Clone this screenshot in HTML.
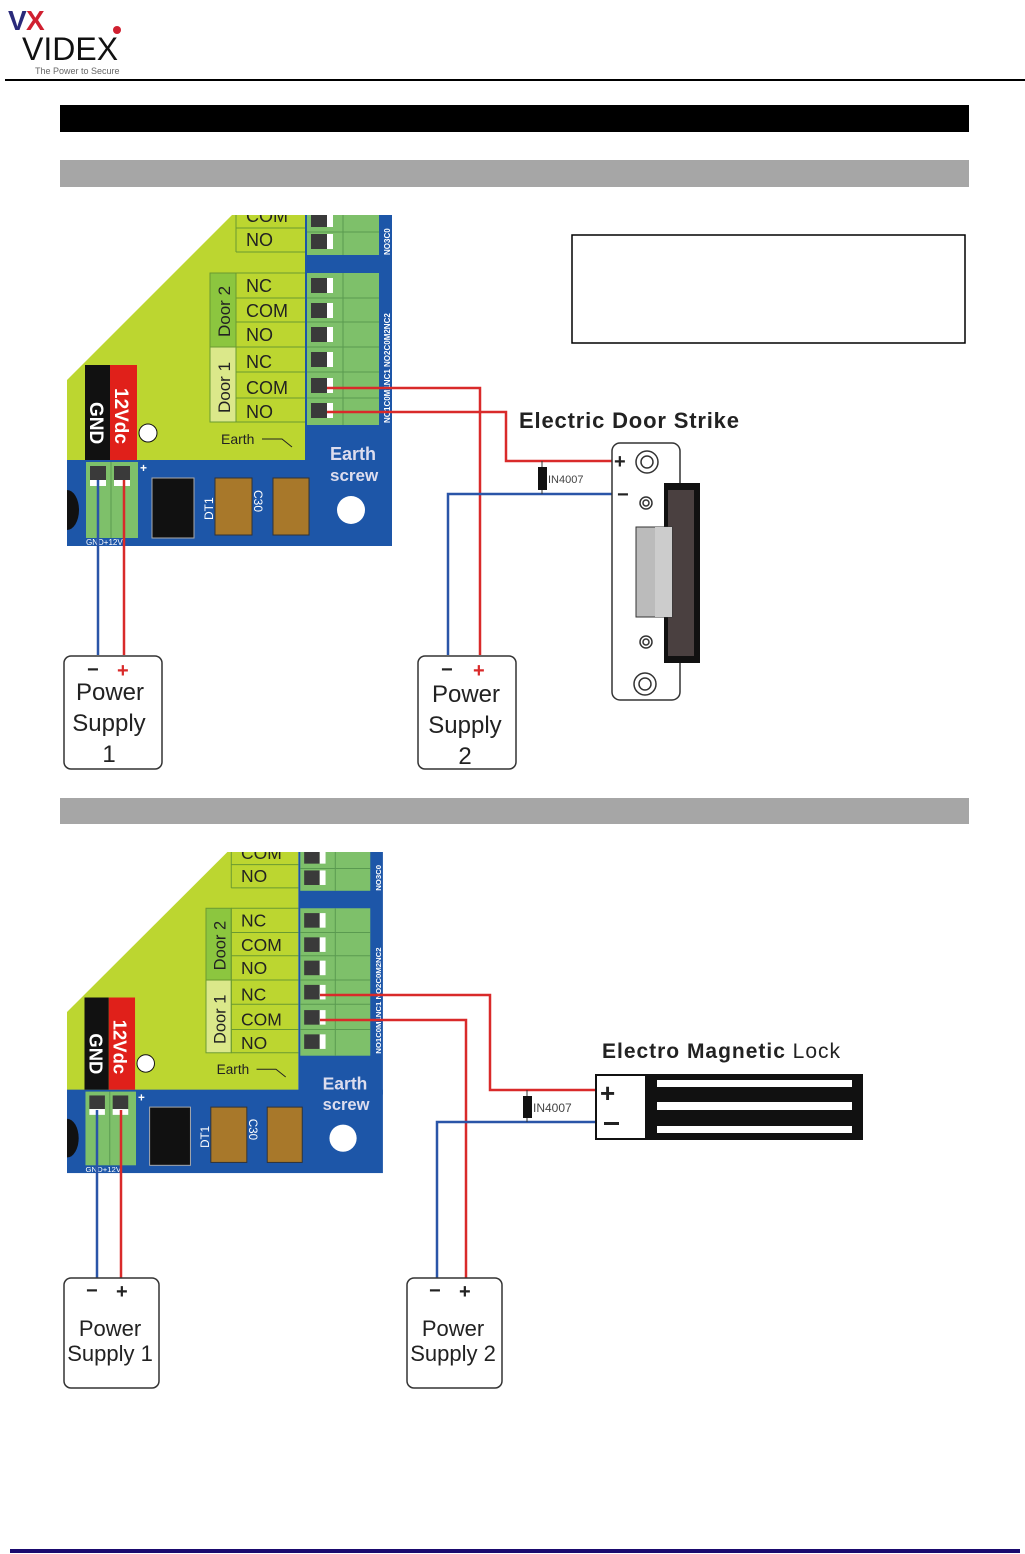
<!DOCTYPE html>
<html><head><meta charset="utf-8"><style>
html,body{margin:0;padding:0;background:#fff}
svg{display:block}
text{font-family:"Liberation Sans",sans-serif}
</style></head><body>
<svg width="1025" height="1554" viewBox="0 0 1025 1554" xmlns="http://www.w3.org/2000/svg">
<defs>
<clipPath id="bc"><rect x="0" y="215" width="400" height="340"/></clipPath>
<g id="board" clip-path="url(#bc)">
  <polygon points="67,380 232,215 305,215 305,462 67,462" fill="#bcd630"/>
  <rect x="67" y="460" width="325" height="86" fill="#1d56a8"/>
  <rect x="305" y="215" width="87" height="250" fill="#1d56a8"/>
  <rect x="307" y="210" width="72" height="45" fill="#7ec06a"/>
  <rect x="307" y="273" width="72" height="152" fill="#7ec06a"/>
  <g stroke="#5a9a50" stroke-width="1">
    <line x1="343" y1="210" x2="343" y2="255"/><line x1="343" y1="273" x2="343" y2="425"/>
    <line x1="307" y1="232" x2="379" y2="232"/>
    <line x1="307" y1="298" x2="379" y2="298"/><line x1="307" y1="322" x2="379" y2="322"/>
    <line x1="307" y1="347" x2="379" y2="347"/><line x1="307" y1="372" x2="379" y2="372"/>
    <line x1="307" y1="398" x2="379" y2="398"/>
  </g>
  <g fill="#3a3a3a">
    <rect x="311" y="210" width="16" height="17"/><rect x="311" y="234" width="16" height="15"/>
    <rect x="311" y="278" width="16" height="15"/><rect x="311" y="303" width="16" height="15"/>
    <rect x="311" y="327" width="16" height="15"/><rect x="311" y="352" width="16" height="15"/>
    <rect x="311" y="378" width="16" height="15"/><rect x="311" y="403" width="16" height="15"/>
  </g>
  <g fill="#fff">
    <rect x="327" y="210" width="6" height="17"/><rect x="327" y="234" width="6" height="15"/>
    <rect x="327" y="278" width="6" height="15"/><rect x="327" y="303" width="6" height="15"/>
    <rect x="327" y="327" width="6" height="15"/><rect x="327" y="352" width="6" height="15"/>
    <rect x="327" y="378" width="6" height="15"/><rect x="327" y="403" width="6" height="15"/>
  </g>
  <rect x="210" y="273" width="26" height="74" fill="#8cc63f" stroke="#6a9a30"/>
  <rect x="210" y="347" width="26" height="75" fill="#dbe88a" stroke="#6a9a30"/>
  <g stroke="#6a9a30" fill="none">
    <line x1="236" y1="228" x2="305" y2="228"/><line x1="236" y1="252" x2="305" y2="252"/>
    <line x1="236" y1="205" x2="236" y2="252"/>
    <line x1="236" y1="273" x2="305" y2="273"/><line x1="236" y1="298" x2="305" y2="298"/>
    <line x1="236" y1="322" x2="305" y2="322"/><line x1="236" y1="347" x2="305" y2="347"/>
    <line x1="236" y1="372" x2="305" y2="372"/><line x1="236" y1="398" x2="305" y2="398"/>
    <line x1="236" y1="422" x2="305" y2="422"/><line x1="236" y1="273" x2="236" y2="422"/>
  </g>
  <g font-size="18" fill="#222">
    <text x="246" y="222">COM</text><text x="246" y="246">NO</text>
    <text x="246" y="292">NC</text><text x="246" y="317">COM</text><text x="246" y="341">NO</text>
    <text x="246" y="368">NC</text><text x="246" y="394">COM</text><text x="246" y="418">NO</text>
  </g>
  <text transform="translate(230,337) rotate(-90)" font-size="17" fill="#222">Door 2</text>
  <text transform="translate(230,413) rotate(-90)" font-size="17" fill="#222">Door 1</text>
  <text x="221" y="444" font-size="14" fill="#222">Earth</text>
  <path d="M262 439 H282 L292 447" stroke="#222" fill="none" stroke-width="1"/>
  <g font-size="8" fill="#fff" font-weight="bold">
    <text transform="translate(390,255) rotate(-90)">NO3C0</text>
    <text transform="translate(390,423) rotate(-90)">NO1C0M1NC1 NO2C0M2NC2</text>
  </g>
  <rect x="85" y="365" width="25" height="95" fill="#111"/>
  <rect x="110" y="365" width="27" height="95" fill="#e0201a"/>
  <text transform="translate(90,402) rotate(90)" font-size="19" font-weight="bold" fill="#fff">GND</text>
  <text transform="translate(115,388) rotate(90)" font-size="19" font-weight="bold" fill="#fff">12Vdc</text>
  <circle cx="148" cy="433" r="9" fill="#fff" stroke="#111"/>
  <rect x="86" y="462" width="52" height="76" fill="#7ec06a"/>
  <line x1="111" y1="462" x2="111" y2="538" stroke="#5a9a50"/>
  <rect x="90" y="466" width="16" height="14" fill="#3a3a3a"/><rect x="114" y="466" width="16" height="14" fill="#3a3a3a"/>
  <rect x="90" y="480" width="16" height="6" fill="#fff"/><rect x="114" y="480" width="16" height="6" fill="#fff"/>
  <text x="86" y="545" font-size="8" fill="#fff">GND+12V</text>
  <text x="140" y="472" font-size="12" fill="#fff" font-weight="bold">+</text>
  <path d="M67 490 A12 20 0 0 1 67 530 Z" fill="#111"/>
  <rect x="152" y="478" width="42" height="60" fill="#111" stroke="#aaa"/>
  <rect x="215" y="478" width="37" height="57" fill="#a8782a" stroke="#333"/>
  <rect x="273" y="478" width="36" height="57" fill="#a8782a" stroke="#333"/>
  <text transform="translate(213,520) rotate(-90)" font-size="12" fill="#fff">DT1</text>
  <text transform="translate(254,490) rotate(90)" font-size="12" fill="#fff">C30</text>
  <text x="330" y="460" font-size="18" font-weight="bold" fill="#dde">Earth</text>
  <text x="330" y="481" font-size="17" font-weight="bold" fill="#dde">screw</text>
  <circle cx="351" cy="510" r="14" fill="#fff"/>
</g>
</defs>

<!-- header -->
<text x="8" y="30" font-size="28" fill="#2a2a7a" font-weight="bold">V</text>
<text x="26" y="30" font-size="28" fill="#d02030" font-weight="bold">X</text>
<text x="22" y="60" font-size="32" fill="#111">VIDEX</text>
<circle cx="117" cy="30" r="4" fill="#d02030"/>
<text x="35" y="74" font-size="9" fill="#666">The Power to Secure</text>
<line x1="5" y1="80" x2="1025" y2="80" stroke="#000" stroke-width="2"/>

<rect x="60" y="105" width="909" height="27" fill="#000"/>
<rect x="60" y="160" width="909" height="27" fill="#a6a6a6"/>
<rect x="572" y="235" width="393" height="108" fill="#fff" stroke="#000" stroke-width="1.5"/>

<!-- top diagram -->
<use href="#board"/>
<g fill="none" stroke-width="2.5">
  <path d="M98 480 V655" stroke="#2a55a8"/>
  <path d="M124 480 V655" stroke="#d92a2a"/>
  <path d="M327 388 H480 V655" stroke="#d92a2a"/>
  <path d="M327 412 H506 V461 H612" stroke="#d92a2a"/>
  <path d="M448 655 V494 H612" stroke="#2a55a8"/>
</g>
<line x1="542" y1="461" x2="542" y2="494" stroke="#333"/>
<rect x="538" y="467" width="9" height="23" fill="#111"/>
<text x="548" y="483" font-size="11" fill="#444">IN4007</text>
<text x="519" y="428" font-size="22" font-weight="bold" fill="#222" textLength="220">Electric Door Strike</text>
<rect x="612" y="443" width="68" height="257" rx="8" fill="#fff" stroke="#333" stroke-width="1.5"/>
<rect x="664" y="483" width="36" height="180" fill="#111"/>
<rect x="668" y="490" width="26" height="166" fill="#4a4040"/>
<rect x="636" y="527" width="36" height="90" fill="#bbb" stroke="#333"/>
<rect x="655" y="527" width="17" height="90" fill="#ccc"/>
<g fill="#fff" stroke="#333" stroke-width="1.5">
  <circle cx="647" cy="462" r="11"/><circle cx="647" cy="462" r="6"/>
  <circle cx="646" cy="503" r="6"/><circle cx="646" cy="503" r="3"/>
  <circle cx="646" cy="642" r="6"/><circle cx="646" cy="642" r="3"/>
  <circle cx="645" cy="684" r="11"/><circle cx="645" cy="684" r="6"/>
</g>
<text x="614" y="468" font-size="20" font-weight="bold" fill="#222">+</text>
<text x="617" y="501" font-size="20" font-weight="bold" fill="#222">−</text>

<rect x="64" y="656" width="98" height="113" rx="7" fill="#fff" stroke="#333" stroke-width="1.5"/>
<text x="87" y="676" font-size="20" font-weight="bold" fill="#222">−</text>
<text x="117" y="677" font-size="20" font-weight="bold" fill="#d92a2a">+</text>
<text x="110" y="700" font-size="24" fill="#222" text-anchor="middle">Power</text>
<text x="109" y="731" font-size="24" fill="#222" text-anchor="middle">Supply</text>
<text x="109" y="762" font-size="24" fill="#222" text-anchor="middle">1</text>
<rect x="418" y="656" width="98" height="113" rx="7" fill="#fff" stroke="#333" stroke-width="1.5"/>
<text x="441" y="676" font-size="20" font-weight="bold" fill="#222">−</text>
<text x="473" y="677" font-size="20" font-weight="bold" fill="#d92a2a">+</text>
<text x="466" y="702" font-size="24" fill="#222" text-anchor="middle">Power</text>
<text x="465" y="733" font-size="24" fill="#222" text-anchor="middle">Supply</text>
<text x="465" y="764" font-size="24" fill="#222" text-anchor="middle">2</text>

<rect x="60" y="798" width="909" height="26" fill="#a6a6a6"/>

<!-- bottom diagram -->
<g transform="translate(67,852) scale(0.972,0.97) translate(-67,-215)"><use href="#board"/></g>
<g fill="none" stroke-width="2.5">
  <path d="M97 1110 V1278" stroke="#2a55a8"/>
  <path d="M121 1110 V1278" stroke="#d92a2a"/>
  <path d="M320 995 H490 V1090 H595" stroke="#d92a2a"/>
  <path d="M320 1020 H466 V1278" stroke="#d92a2a"/>
  <path d="M437 1278 V1122 H595" stroke="#2a55a8"/>
</g>
<line x1="527" y1="1090" x2="527" y2="1122" stroke="#333"/>
<rect x="523" y="1096" width="9" height="22" fill="#111"/>
<text x="533" y="1112" font-size="12" fill="#444">IN4007</text>
<text x="602" y="1058" font-size="21" fill="#222" textLength="238"><tspan font-weight="bold">Electro Magnetic</tspan> Lock</text>
<rect x="595" y="1074" width="268" height="66" fill="#111"/>
<rect x="597" y="1076" width="48" height="62" fill="#fff"/>
<rect x="657" y="1080" width="195" height="7" fill="#fff"/>
<rect x="657" y="1102" width="195" height="8" fill="#fff"/>
<rect x="657" y="1126" width="195" height="7" fill="#fff"/>
<text x="600" y="1102" font-size="26" font-weight="bold" fill="#222">+</text>
<rect x="604" y="1122" width="15" height="3" fill="#222"/>

<rect x="64" y="1278" width="95" height="110" rx="7" fill="#fff" stroke="#333" stroke-width="1.5"/>
<text x="86" y="1297" font-size="20" font-weight="bold" fill="#222">−</text>
<text x="116" y="1298" font-size="20" font-weight="bold" fill="#222">+</text>
<text x="110" y="1336" font-size="22" fill="#222" text-anchor="middle">Power</text>
<text x="110" y="1361" font-size="22" fill="#222" text-anchor="middle">Supply 1</text>
<rect x="407" y="1278" width="95" height="110" rx="7" fill="#fff" stroke="#333" stroke-width="1.5"/>
<text x="429" y="1297" font-size="20" font-weight="bold" fill="#222">−</text>
<text x="459" y="1298" font-size="20" font-weight="bold" fill="#222">+</text>
<text x="453" y="1336" font-size="22" fill="#222" text-anchor="middle">Power</text>
<text x="453" y="1361" font-size="22" fill="#222" text-anchor="middle">Supply 2</text>

<rect x="10" y="1549" width="1010" height="4" fill="#1a0a6e"/>
</svg>
</body></html>
